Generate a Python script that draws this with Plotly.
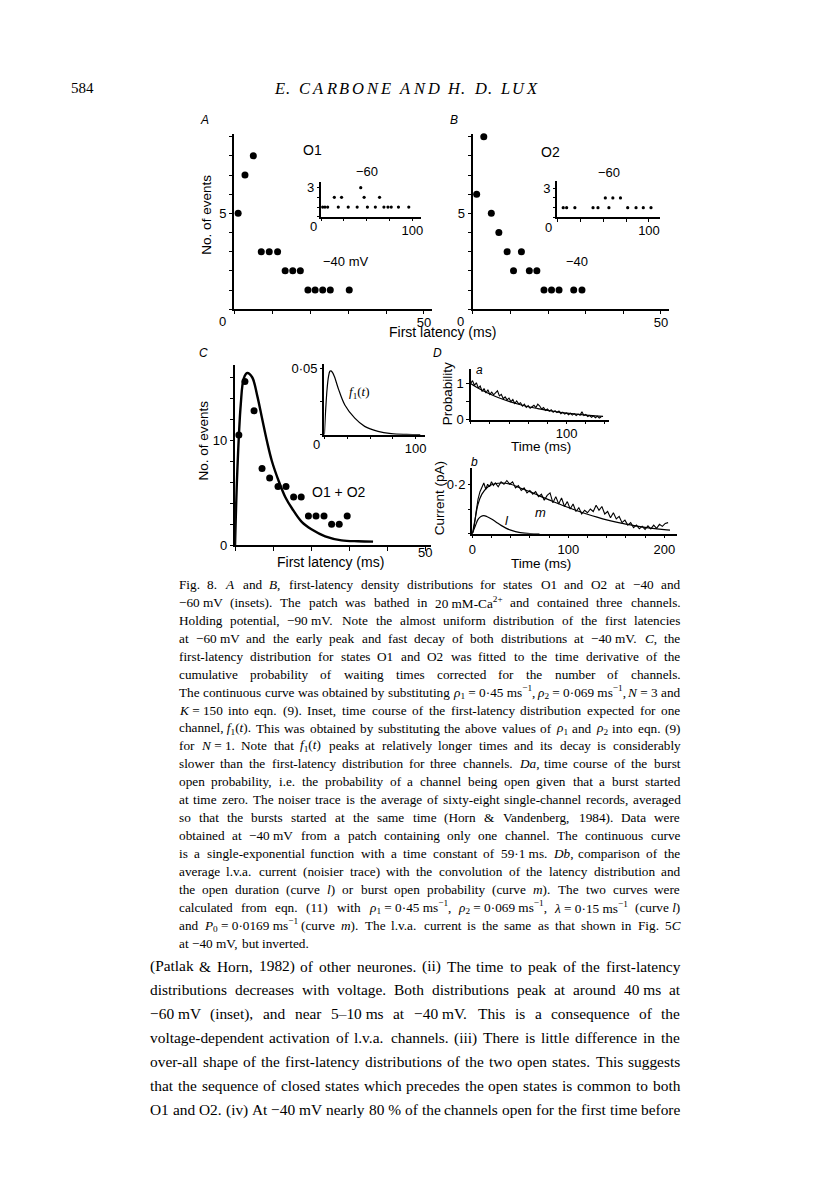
import re
import plotly.graph_objects as go

W, H = 816, 1181

# ---------------- data ----------------
# Panel A (O1), -40 mV: first latency (ms) vs number of events
a_lat = [1, 2.8, 5, 7.1, 9.2, 11.4, 13.4, 15.4, 17.4, 19.4, 21.3, 23.3, 25.3, 30.3]
a_cnt = [5, 7, 8, 3, 3, 3, 2, 2, 2, 1, 1, 1, 1, 1]
# Panel A inset, -60 mV
a60_lat = [1.8, 4.3, 7.3, 18.9, 29.8, 39.6, 50.8, 59.5, 68.9, 73.3, 76.9, 84.8, 96.1,
           14.6, 22.5, 47.2, 64.1, 43.5]
a60_cnt = [1, 1, 1, 1, 1, 1, 1, 1, 1, 1, 1, 1, 1, 2, 2, 2, 2, 3]
# Panel B (O2), -40 mV
b_lat = [1, 2.9, 4.9, 6.9, 9.1, 10.8, 12.9, 15, 17, 18.9, 20.9, 22.9, 26.8, 29]
b_cnt = [6, 9, 5, 4, 3, 2, 3, 2, 2, 1, 1, 1, 1, 1]
# Panel B inset, -60 mV
b60_lat = [6.5, 10.2, 19.2, 39, 44.4, 56.3, 76.8, 85.9, 93.8, 102.2, 52.4, 60.6, 68.9]
b60_cnt = [1, 1, 1, 1, 1, 1, 1, 1, 1, 1, 2, 2, 2]
# Panel C (O1 + O2)
c_lat = [1.0, 2.6, 5.0, 7.1, 9.1, 11.3, 13.4, 15.4, 17.4, 19.3, 21.3, 23.4, 25.4, 27.4, 29.5]
c_cnt = [10.5, 15.6, 12.8, 7.3, 6.4, 5.6, 5.6, 4.6, 4.6, 2.8, 2.8, 2.8, 2.0, 2.0, 2.8]
# Panel C fitted curve (read points)
cfit_t = [0, 0.6, 1.5, 2.3, 3.2, 4.5, 5.8, 7.1, 8.4, 9.7, 11.5, 13.2, 15, 17.6, 20.2, 23.7, 28, 32.4, 36.3]
cfit_v = [0, 7.1, 13.4, 15.9, 16.4, 16.0, 14.3, 12.1, 9.9, 8.0, 6.1, 4.6, 3.5, 2.2, 1.5, 0.85, 0.47, 0.38, 0.35]
# Panel C inset f1(t)
f1_t = [0, 1.5, 3, 4.5, 6, 7.2, 9, 11, 15.2, 22.4, 33.3, 44.1, 58.7, 73.2, 90, 105]
f1_v = [0, 0.02, 0.035, 0.044, 0.048, 0.0483, 0.047, 0.044, 0.035, 0.0225, 0.0125, 0.0063,
        0.0025, 0.0008, 0.0002, 0]
# Panel Da: burst open probability (noisy trace) and exponential fit
da_t = [0, 2, 4, 6, 8, 10, 12, 14, 16, 18, 20, 22, 24, 26, 28, 30, 32, 34, 36, 38,
        40, 42, 44, 46, 48, 50, 52, 54, 56, 58, 60, 62, 64, 66, 68, 70, 72, 74, 76, 78,
        80, 82, 84, 86, 88, 90, 92, 94, 96, 98, 100, 102, 104, 106, 108, 110, 112, 114,
        116, 118, 120, 122, 124, 126, 128, 130, 132, 134, 136]
da_v = [1.00, 1.08, 0.95, 1.02, 0.88, 0.93, 0.78, 0.86, 0.74, 0.83,
        0.70, 0.76, 0.69, 0.74, 0.80, 0.66, 0.70, 0.58, 0.63, 0.55,
        0.60, 0.50, 0.56, 0.45, 0.52, 0.44, 0.47, 0.38, 0.43, 0.34,
        0.39, 0.32, 0.37, 0.40, 0.34, 0.43, 0.38, 0.30, 0.34, 0.26,
        0.30, 0.24, 0.28, 0.21, 0.25, 0.20, 0.24, 0.17, 0.21, 0.16,
        0.19, 0.14, 0.18, 0.13, 0.17, 0.12, 0.16, 0.13, 0.22, 0.12,
        0.15, 0.09, 0.12, 0.07, 0.11, 0.06, 0.10, 0.05, 0.08]
dafit_t = [0, 10, 20, 30, 40, 50, 60, 70, 80, 90, 100, 110, 120, 130, 138]
dafit_v = [1.0, 0.84, 0.71, 0.60, 0.51, 0.43, 0.36, 0.31, 0.26, 0.22, 0.185, 0.155, 0.13, 0.11, 0.097]
# Panel Db: average l.v.a. current (noisy) and curves l and m
db_t = [0, 2, 4, 6, 8, 10, 12, 14, 16, 18, 20, 22, 24, 27, 30, 33, 36, 39, 42, 45,
        48, 51, 54, 57, 60, 63, 66, 69, 72, 75, 78, 81, 84, 87, 90, 93, 96, 99, 102, 105,
        108, 111, 114, 117, 120, 123, 126, 129, 132, 135, 138, 141, 144, 147, 150, 153, 156,
        159, 162, 165, 168, 171, 174, 177, 180, 183, 186, 189, 192, 195, 198, 201, 204]
db_v = [0.0, 0.03, 0.09, 0.14, 0.17, 0.19, 0.205, 0.18, 0.20, 0.19,
        0.21, 0.195, 0.205, 0.19, 0.21, 0.20, 0.215, 0.20, 0.21, 0.185,
        0.195, 0.175, 0.185, 0.165, 0.175, 0.16, 0.17, 0.15, 0.16, 0.135,
        0.155, 0.165, 0.125, 0.15, 0.12, 0.145, 0.11, 0.13, 0.10, 0.12,
        0.09, 0.105, 0.08, 0.095, 0.085, 0.10, 0.09, 0.115, 0.095, 0.11,
        0.08, 0.09, 0.065, 0.085, 0.06, 0.07, 0.045, 0.055, 0.035, 0.045,
        0.025, 0.035, 0.02, 0.03, 0.018, 0.032, 0.02, 0.035, 0.022, 0.038,
        0.03, 0.042, 0.045]
m_t = [0, 3, 6, 10, 15, 20, 30, 40, 50, 60, 70, 80, 90, 100, 110, 120, 130, 140, 150,
       160, 170, 180, 190, 200, 206]
m_v = [0, 0.06, 0.12, 0.16, 0.185, 0.198, 0.205, 0.2, 0.185, 0.17, 0.153, 0.137, 0.121,
       0.106, 0.092, 0.079, 0.067, 0.056, 0.047, 0.039, 0.032, 0.026, 0.021, 0.017, 0.015]
l_t = [0, 3, 6, 9, 12, 15, 20, 25, 30, 35, 40, 45, 50, 60, 70]
l_v = [0, 0.03, 0.058, 0.07, 0.073, 0.07, 0.06, 0.047, 0.034, 0.023, 0.015, 0.009, 0.005, 0.001, 0]

# ---------------- text ----------------
header_num = "584"
header_words = ["E.", "CARBONE", "AND", "H.", "D.", "LUX"]
caption = [
    "Fig. 8. <i>A</i> and <i>B</i>, first-latency density distributions for states O1 and O2 at −40 and",
    "−60~mV (insets). The patch was bathed in 20~mM-Ca<sup>2+</sup> and contained three channels.",
    "Holding potential, −90~mV. Note the almost uniform distribution of the first latencies",
    "at −60~mV and the early peak and fast decay of both distributions at −40~mV. <i>C</i>, the",
    "first-latency distribution for states O1 and O2 was fitted to the time derivative of the",
    "cumulative probability of waiting times corrected for the number of channels.",
    "The continuous curve was obtained by substituting <i>ρ</i><sub>1</sub>~=~0·45~ms<sup>−1</sup>, <i>ρ</i><sub>2</sub>~=~0·069~ms<sup>−1</sup>, <i>N</i>~=~3 and",
    "<i>K</i>~=~150 into eqn. (9). Inset, time course of the first-latency distribution expected for one",
    "channel,~<i>f</i><sub>1</sub>(<i>t</i>). This was obtained by substituting the above values of <i>ρ</i><sub>1</sub> and <i>ρ</i><sub>2</sub> into eqn. (9)",
    "for <i>N</i>~=~1. Note that <i>f</i><sub>1</sub>(<i>t</i>) peaks at relatively longer times and its decay is considerably",
    "slower than the first-latency distribution for three channels. <i>Da</i>, time course of the burst",
    "open probability, i.e. the probability of a channel being open given that a burst started",
    "at time zero. The noiser trace is the average of sixty-eight single-channel records, averaged",
    "so that the bursts started at the same time (Horn & Vandenberg, 1984). Data were",
    "obtained at −40~mV from a patch containing only one channel. The continuous curve",
    "is a single-exponential function with a time constant of 59·1~ms. <i>Db</i>, comparison of the",
    "average l.v.a. current (noisier trace) with the convolution of the latency distribution and",
    "the open duration (curve <i>l</i>) or burst open probability (curve <i>m</i>). The two curves were",
    "calculated from eqn. (11) with <i>ρ</i><sub>1</sub>~=~0·45~ms<sup>−1</sup>, <i>ρ</i><sub>2</sub>~=~0·069~ms<sup>−1</sup>, <i>λ</i>~=~0·15~ms<sup>−1</sup> (curve~<i>l</i>)",
    "and <i>P</i><sub>0</sub>~=~0·0169~ms<sup>−1</sup> (curve <i>m</i>). The l.v.a. current is the same as that shown in Fig. 5<i>C</i>",
    "at −40~mV, but inverted.",
]
body = [
    "(Patlak & Horn, 1982) of other neurones. (ii) The time to peak of the first-latency",
    "distributions decreases with voltage. Both distributions peak at around 40~ms at",
    "−60~mV (inset), and near 5–10~ms at −40~mV. This is a consequence of the",
    "voltage-dependent activation of l.v.a. channels. (iii) There is little difference in the",
    "over-all shape of the first-latency distributions of the two open states. This suggests",
    "that the sequence of closed states which precedes the open states is common to both",
    "O1 and O2. (iv) At −40~mV nearly 80~% of the channels open for the first time before",
]

# ---------------- helpers ----------------
SANS = "Liberation Sans"
SERIF = "Liberation Serif"
BLACK = "black"

annotations = []


def P(px, py):
    return px / W, 1 - py / H


def label(text, px, py, size=13, family=SANS, angle=0, xanchor="center", yanchor="middle"):
    x, y = P(px, py)
    annotations.append(dict(text=text, x=x, y=y, xref="paper", yref="paper", showarrow=False,
                            xanchor=xanchor, yanchor=yanchor, textangle=angle,
                            font=dict(family=family, size=size, color=BLACK)))


def axis_label(text, xa, ya, xv, yv, dx, dy, size=13):
    # text anchored to a data point of a panel, offset in pixels
    annotations.append(dict(text=text, x=xv, y=yv, xref=xa, yref=ya, xshift=dx, yshift=-dy,
                            showarrow=False, xanchor="center", yanchor="middle",
                            font=dict(family=SANS, size=size, color=BLACK)))


# Times / Liberation Serif advance widths (em units)
SW = {' ': 0.25, '\u00a0': 0.25, 'a': 0.444, 'b': 0.5, 'c': 0.444, 'd': 0.5, 'e': 0.444,
      'f': 0.333, 'g': 0.5, 'h': 0.5, 'i': 0.278, 'j': 0.278, 'k': 0.5, 'l': 0.278,
      'm': 0.778, 'n': 0.5, 'o': 0.5, 'p': 0.5, 'q': 0.5, 'r': 0.333, 's': 0.389,
      't': 0.278, 'u': 0.5, 'v': 0.5, 'w': 0.722, 'x': 0.5, 'y': 0.5, 'z': 0.444,
      'A': 0.722, 'B': 0.667, 'C': 0.667, 'D': 0.722, 'E': 0.611, 'F': 0.556, 'G': 0.722,
      'H': 0.722, 'I': 0.333, 'J': 0.389, 'K': 0.722, 'L': 0.611, 'M': 0.889, 'N': 0.722,
      'O': 0.722, 'P': 0.556, 'Q': 0.722, 'R': 0.667, 'S': 0.556, 'T': 0.611, 'U': 0.722,
      'V': 0.722, 'W': 0.944, 'X': 0.722, 'Y': 0.722, 'Z': 0.611, '.': 0.25, ',': 0.25,
      '(': 0.333, ')': 0.333, '-': 0.333, '=': 0.564, '&': 0.778, '%': 0.833, ':': 0.278,
      ';': 0.278, '−': 0.564, '·': 0.25, '–': 0.5, 'ρ': 0.5, 'λ': 0.55, '+': 0.564}
for dch in "0123456789":
    SW[dch] = 0.5


def em_width(markup):
    total, scale = 0.0, 1.0
    for tok in re.split(r'(<[^>]+>)', markup):
        if tok.startswith('<'):
            if tok in ('<sub>', '<sup>'):
                scale = 0.7
            elif tok in ('</sub>', '</sup>'):
                scale = 1.0
            continue
        for ch in tok:
            total += SW.get(ch, 0.5) * scale
    return total


def justified_block(lines, x_left, x_right, y_first, dy, last_lines=()):
    lines = [ln.replace('~', '\u00a0') for ln in lines]
    colw = x_right - x_left
    full = [ln for i, ln in enumerate(lines) if i not in last_lines]
    size = min(colw / em_width(ln) for ln in full) * 0.99
    for i, ln in enumerate(lines):
        words = ln.split(' ')
        ws = [em_width(w) * size for w in words]
        if i in last_lines or len(words) == 1:
            gap = SW[' '] * size
        else:
            gap = (colw - sum(ws)) / (len(words) - 1)
        x = x_left
        y = y_first + i * dy
        for w, wd in zip(words, ws):
            label(w, x, y, size=size, family=SERIF, xanchor="left")
            x += wd + gap


def spaced_title(words, x_left, x_right, y, size):
    # running head set letter-spaced: each letter placed individually
    letters = []
    for wi, w in enumerate(words):
        for ch in w:
            letters.append(ch)
        if wi < len(words) - 1:
            letters.append(' ')
    glyph_w = [SW.get(ch, 0.6) * size for ch in letters]
    n_gaps = len(letters) - 1
    extra = (x_right - x_left - sum(glyph_w)) / n_gaps
    x = x_left
    for ch, gw in zip(letters, glyph_w):
        if ch != ' ':
            label("<i>%s</i>" % ch, x, y, size=size, family=SERIF, xanchor="left")
        x += gw + extra


layout_axes = {}
trace_list = []


def panel(n, x0, xs, xr, y0, ys, yr, xtv, xtt, ytv, ytt, tick_len=3.5, font_size=13,
          xstand=0, ystand=0):
    xn = "xaxis" if n == 1 else "xaxis%d" % n
    yn = "yaxis" if n == 1 else "yaxis%d" % n
    xa = "x" if n == 1 else "x%d" % n
    ya = "y" if n == 1 else "y%d" % n
    common = dict(showgrid=False, zeroline=False, showline=True, linecolor=BLACK, linewidth=1.5,
                  ticklen=tick_len, tickwidth=1.2, tickcolor=BLACK, tickmode="array",
                  ticks="outside", tickfont=dict(family=SANS, size=font_size, color=BLACK),
                  fixedrange=True)
    layout_axes[xn] = dict(common, domain=[(x0 + xr[0] * xs) / W, (x0 + xr[1] * xs) / W],
                           range=list(xr), anchor=ya, tickvals=xtv, ticktext=xtt,
                           ticklabelstandoff=xstand)
    layout_axes[yn] = dict(common, domain=[1 - (y0 - yr[0] * ys) / H, 1 - (y0 - yr[1] * ys) / H],
                           range=list(yr), anchor=xa, tickvals=ytv, ticktext=ytt,
                           ticklabelstandoff=ystand)
    return xa, ya


def dots(xa, ya, x, y, size):
    trace_list.append(go.Scatter(x=x, y=y, xaxis=xa, yaxis=ya, mode="markers",
                                 marker=dict(size=size, color=BLACK, line=dict(width=0)),
                                 cliponaxis=False, showlegend=False, hoverinfo="skip"))


def curve(xa, ya, x, y, width, shape="spline"):
    trace_list.append(go.Scatter(x=x, y=y, xaxis=xa, yaxis=ya, mode="lines",
                                 line=dict(color=BLACK, width=width, shape=shape),
                                 showlegend=False, hoverinfo="skip"))


def blank(vals, show):
    return [str(v) if v in show else "" for v in vals]


# ---------------- panels ----------------
# A main
xa, ya = panel(1, 224, 3.82, (0, 52), 301, 19.35, (0, 9.15),
               [0, 10, 20, 30, 40, 50], ["", "", "", "", "", "50"],
               list(range(10)), blank(range(10), [5]), xstand=-3)
dots(xa, ya, a_lat, a_cnt, 7)
axis_label("0", xa, ya, 0, 0, -12, 12)
# A inset
xa, ya = panel(2, 311.3, 0.92, (0, 110), 207.7, 9.8, (0, 3.6),
               [0, 25, 50, 75, 100], ["", "", "", "", "100"],
               [0, 1, 2, 3], ["", "", "", "3"], tick_len=2.5, xstand=-2)
dots(xa, ya, a60_lat, a60_cnt, 3.2)
axis_label("0", xa, ya, 0, 0, -8, 10)
# B main
xa, ya = panel(3, 464.3, 3.79, (0, 52), 301, 19.35, (0, 9.15),
               [0, 10, 20, 30, 40, 50], ["", "", "", "", "", "50"],
               list(range(10)), blank(range(10), [5]), xstand=-3)
dots(xa, ya, b_lat, b_cnt, 7)
axis_label("0", xa, ya, 0, 0, -12, 12)
# B inset
xa, ya = panel(4, 549.3, 0.924, (0, 112), 208.3, 9.8, (0, 3.7),
               [0, 25, 50, 75, 100], ["", "", "", "", "100"],
               [0, 1, 2, 3], ["", "", "", "3"], tick_len=2.5, xstand=-2)
dots(xa, ya, b60_lat, b60_cnt, 3.2)
axis_label("0", xa, ya, 0, 0, -9, 10)
# C main
xa, ya = panel(5, 224.7, 3.83, (0, 51.5), 539.3, 10.6, (0, 17.2),
               [0, 10, 20, 30, 40, 50], ["", "", "", "", "", "50"],
               list(range(0, 18, 2)), ["0", "", "", "", "", "10", "", "", ""], xstand=-9)
curve(xa, ya, cfit_t, cfit_v, 2.4)
dots(xa, ya, c_lat, c_cnt, 7)
# C inset
xa, ya = panel(6, 314.7, 0.92, (0, 110), 427.7, 1334, (0, 0.0537),
               [0, 25, 50, 75, 100], ["", "", "", "", "100"],
               [0, 0.025, 0.05], ["", "", "0·05"], tick_len=2.5, xstand=-2)
curve(xa, ya, f1_t, f1_v, 1.2)
axis_label("0", xa, ya, 0, 0, -8, 10)
# Da
xa, ya = panel(7, 462, 0.967, (0, 144), 412.7, 36.7, (0, 1.41),
               [0, 20, 40, 60, 80, 100, 120, 140], ["", "", "", "", "", "100", "", ""],
               [0, 0.5, 1], ["0", "", "1"], tick_len=2.5, xstand=-2)
curve(xa, ya, dafit_t, dafit_v, 1.2)
curve(xa, ya, da_t, da_v, 1.1, shape="linear")
# Db
xa, ya = panel(8, 463.7, 0.967, (0, 213), 527.7, 250, (0, 0.267),
               [0, 20, 40, 60, 80, 100, 120, 140, 160, 180, 200],
               ["0", "", "", "", "", "100", "", "", "", "", "200"],
               [0, 0.1, 0.2], ["", "", "0·2"], tick_len=2.5, xstand=0)
curve(xa, ya, l_t, l_v, 1.2)
curve(xa, ya, m_t, m_v, 1.2)
curve(xa, ya, db_t, db_v, 1.1, shape="linear")

# ---------------- figure labels ----------------
label("<i>A</i>", 194, 110, size=12)
label("<i>B</i>", 445, 110, size=12)
label("<i>C</i>", 193, 345, size=12)
label("<i>D</i>", 429, 345, size=12)
label("<i>a</i>", 471, 362, size=12)
label("<i>b</i>", 466, 455, size=12)

label("No. of events", 196, 206, size=13.5, angle=-90)
label("No. of events", 193, 434, size=13.5, angle=-90)
label("First latency (ms)", 434, 324, size=14)
label("First latency (ms)", 321, 556, size=14)
label("Probability", 439, 386, size=13.5, angle=-90)
label("Current (pA)", 431, 492, size=13.5, angle=-90)
label("Time (ms)", 533, 440, size=13.5)
label("Time (ms)", 533, 558, size=13.5)

label("O1", 303, 140, size=14)
label("−60", 358, 162, size=13)
label("−40 mV", 336, 253, size=13)
label("O2", 542, 142, size=14)
label("−60", 601, 163, size=13)
label("−40", 569, 253, size=13)
label("O1 + O2", 329, 486, size=14)
label("<i>f</i><sub>1</sub>(<i>t</i>)", 350, 385, size=13, family=SERIF)
label("<i>l</i>", 499, 514, size=13)
label("<i>m</i>", 532, 506, size=13)

# ---------------- page text ----------------
label(header_num, 57, 78, size=15, family=SERIF, xanchor="left")
spaced_title(header_words, 262, 528, 78, 16.5)
justified_block(caption, 166, 671, 579, 18.1, last_lines=(20,))
justified_block(body, 137, 671, 964, 24.2)

fig = go.Figure(data=trace_list)
fig.update_layout(width=W, height=H, autosize=False,
                  margin=dict(l=0, r=0, t=0, b=0, pad=0),
                  paper_bgcolor="white", plot_bgcolor="rgba(0,0,0,0)",
                  showlegend=False, annotations=annotations, **layout_axes)
fig.write_html("out.html")
